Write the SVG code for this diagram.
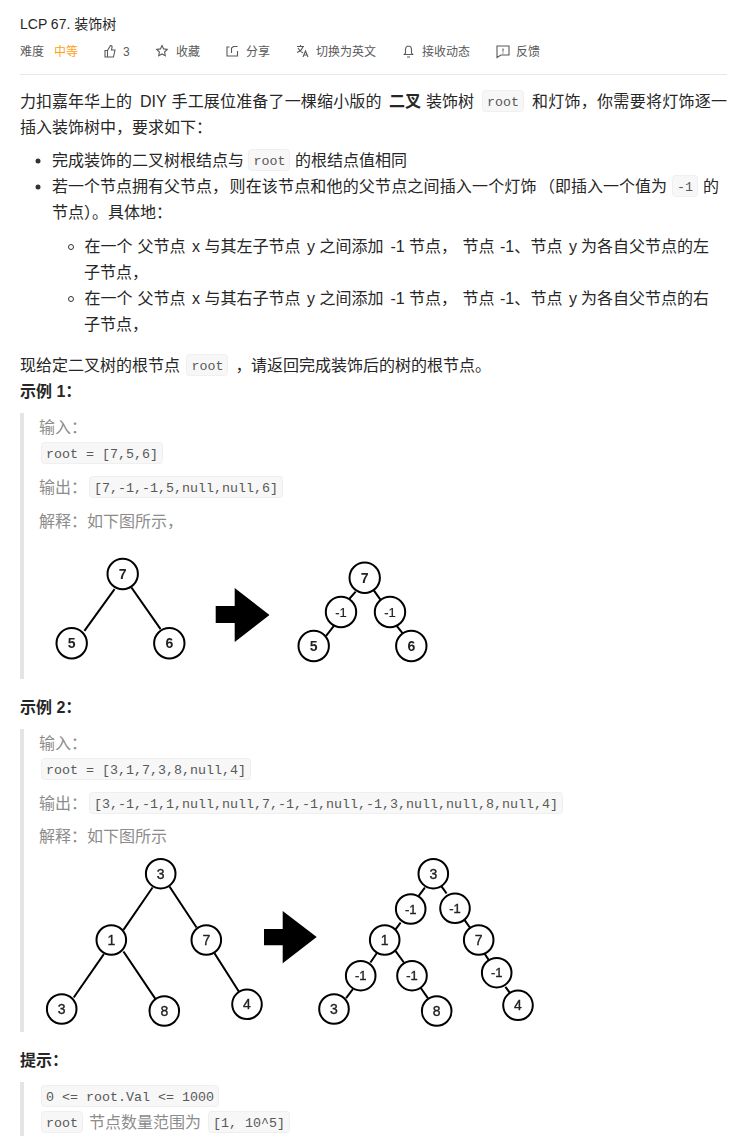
<svg xmlns="http://www.w3.org/2000/svg" width="746" height="1146" viewBox="0 0 746 1146">
<style>
text{font-family:"Liberation Sans","Noto Sans CJK SC",sans-serif;fill:#262626;font-size:16px}
.t{font-size:12px;fill:#595959}
.title{font-size:14px;fill:#262626}
.b{font-weight:700}
.g{fill:#8c8c8c}
.c{font-family:"Liberation Mono",monospace;font-size:13.33px;fill:#595959}
.chip{fill:#f7f7f7;stroke:#efefef;stroke-width:1}
.bar{fill:#e5e5e5}
.n{filter:url(#soft)}
.n circle{fill:#fff;stroke:#000;stroke-width:2}
.n text{font-size:14px;font-weight:700;fill:#222;text-anchor:middle}
.m text{font-weight:400;font-size:13px;stroke:#222;stroke-width:.2}
.r circle{stroke-width:2}
.r text{font-weight:400;stroke:#222;stroke-width:.35}
.e{filter:url(#soft)}
.e line{stroke:#000;stroke-width:2;stroke-linecap:square}
.ic{fill:none;stroke:#595959;stroke-width:1.1}
</style>
<defs><filter id="soft" x="-10%" y="-10%" width="120%" height="120%"><feGaussianBlur stdDeviation="0.35"/></filter></defs>
<rect width="746" height="1146" fill="#fff"/>
<g id="header">
<text class="title" x="20" y="29">LCP 67. 装饰树</text>
<text class="t" x="20" y="56">难度</text>
<text class="t" x="54" y="56" style="fill:#ffa116">中等</text>
<path class="ic" d="M105 50.500h2.500v6.500h-2.500zM107.500 50.500l3-5c1.500 0 1.800 1 1.500 2l-.5 2.500h3.500l-1.500 7h-6"/>
<text class="t" x="123" y="56">3</text>
<path class="ic" d="M162 45.500l1.600 3.400 3.700.5-2.700 2.600.7 3.700-3.300-1.800-3.300 1.800.7-3.700-2.700-2.600 3.700-.5z"/>
<text class="t" x="176" y="56">收藏</text>
<path class="ic" d="M229.500 47h-2.500v9h10.500v-5M231.500 53v-5l2-1.500h4"/>
<text class="t" x="246" y="56">分享</text>
<path class="ic" d="M297 46.500h7M300.500 45v1.500M303 46.500c-1 3-3 5-6 6M298 48c1 2 3 4 5 5M303 57l2.500-6 2.500 6M304 55h3"/>
<text class="t" x="316" y="56">切换为英文</text>
<path class="ic" d="M408.500 46c-2.500 0-3 2-3 4v3l-1.200 1.500h8.400l-1.200-1.500v-3c0-2-.5-4-3-4zM407 57h3"/>
<text class="t" x="422" y="56">接收动态</text>
<path class="ic" d="M497 46h12v9h-8l-4 2.500zM503 48.500v3M503 52.500v1"/>
<text class="t" x="516" y="56">反馈</text>
<rect x="20" y="74" width="707" height="1" fill="#e8e8e8"/>
</g>
<g id="description">
<rect class="chip" x="482.500" y="90.500" width="41" height="21" rx="3"/>
<rect class="chip" x="248.500" y="149.500" width="41" height="21" rx="3"/>
<rect class="chip" x="672.500" y="175.500" width="25" height="21" rx="3"/>
<rect class="chip" x="186.500" y="354.500" width="41" height="21" rx="3"/>
<text x="20" y="107">力扣嘉年华上的</text>
<text x="140" y="107">DIY</text>
<text x="171.500" y="107" textLength="210">手工展位准备了一棵缩小版的</text>
<text class="b" x="389" y="107">二叉</text>
<text x="426" y="107">装饰树</text>
<text class="c" x="487" y="106">root</text>
<text x="532" y="107" textLength="195">和灯饰，你需要将灯饰逐一</text>
<text x="20" y="133">插入装饰树中，要求如下：</text>
<circle cx="38" cy="161" r="2.500" fill="#333"/>
<text x="52" y="166">完成装饰的二叉树根结点与</text>
<text class="c" x="253.500" y="165">root</text>
<text x="295" y="166">的根结点值相同</text>
<circle cx="38" cy="187" r="2.500" fill="#333"/>
<text x="52" y="192">若一个节点拥有父节点，</text>
<text x="229.500" y="192" textLength="307">则在该节点和他的父节点之间插入一个灯饰</text>
<text x="539" y="192">（即插入一个值为</text>
<text class="c" x="677" y="191">-1</text>
<text x="703" y="192">的</text>
<text x="52" y="218">节点）。具体地：</text>
<circle cx="71" cy="247" r="2.500" fill="none" stroke="#333"/>
<g id="sub1">
<text x="84.500" y="252">在一个</text>
<text x="137.500" y="252">父节点</text>
<text x="192" y="252">x</text>
<text x="204.500" y="252">与其左子节点</text>
<text x="307" y="252">y</text>
<text x="319.500" y="252">之间添加</text>
<text x="390.500" y="252">-1</text>
<text x="409" y="252">节点，</text>
<text x="462.500" y="252">节点</text>
<text x="500" y="252">-1、</text>
<text x="530.500" y="252">节点</text>
<text x="569" y="252">y</text>
<text x="581" y="252">为各自父节点的左</text>
</g>
<text x="84" y="278">子节点，</text>
<circle cx="71" cy="299" r="2.500" fill="none" stroke="#333"/>
<g id="sub2">
<text x="84.500" y="304">在一个</text>
<text x="137.500" y="304">父节点</text>
<text x="192" y="304">x</text>
<text x="204.500" y="304">与其右子节点</text>
<text x="307" y="304">y</text>
<text x="319.500" y="304">之间添加</text>
<text x="390.500" y="304">-1</text>
<text x="409" y="304">节点，</text>
<text x="462.500" y="304">节点</text>
<text x="500" y="304">-1、</text>
<text x="530.500" y="304">节点</text>
<text x="569" y="304">y</text>
<text x="581" y="304">为各自父节点的右</text>
</g>
<text x="84" y="330">子节点，</text>
<text x="20" y="371">现给定二叉树的根节点</text>
<text class="c" x="191.500" y="370">root</text>
<text x="235.500" y="371">，</text>
<text x="251" y="371">请返回完成装饰后的树的根节点。</text>
<text class="b" x="20" y="397">示例 1：</text>
</g>
<g id="example1-text">
<rect class="bar" x="20" y="413" width="4" height="266"/>
<rect class="chip" x="41.500" y="442.500" width="121" height="21" rx="3"/>
<rect class="chip" x="89.500" y="476.500" width="193" height="21" rx="3"/>
<text class="g" x="39" y="433">输入：</text>
<text class="c" x="46" y="458">root = [7,5,6]</text>
<text class="g" x="39" y="493">输出：</text>
<text class="c" x="94" y="492">[7,-1,-1,5,null,null,6]</text>
<text class="g" x="39" y="527">解释：如下图所示，</text>
</g>
<g id="connectors" class="e">
<line x1="114" y1="590" x2="85" y2="630"/>
<line x1="132" y1="588.300" x2="160" y2="628.300"/>
<line x1="355" y1="592.300" x2="348.300" y2="600"/>
<line x1="374" y1="590.700" x2="380" y2="599"/>
<line x1="333.300" y1="626.700" x2="326.700" y2="635"/>
<line x1="397.300" y1="626.700" x2="403.300" y2="634"/>
<line x1="152" y1="888.300" x2="124" y2="929"/>
<line x1="170" y1="887.300" x2="196" y2="926.700"/>
<line x1="103.300" y1="955" x2="74.300" y2="996.700"/>
<line x1="124" y1="952.300" x2="155" y2="998.300"/>
<line x1="215" y1="954" x2="238.300" y2="990.700"/>
<line x1="424.300" y1="888.300" x2="419.300" y2="895"/>
<line x1="441.700" y1="886.700" x2="446" y2="892.700"/>
<line x1="400" y1="923.300" x2="395" y2="930"/>
<line x1="465" y1="920.700" x2="470" y2="927.700"/>
<line x1="376.700" y1="953.300" x2="371" y2="961.700"/>
<line x1="396" y1="951.700" x2="403.300" y2="961.700"/>
<line x1="485" y1="954.300" x2="488.300" y2="959.300"/>
<line x1="352.300" y1="990" x2="346.700" y2="997.300"/>
<line x1="421" y1="988.300" x2="427.300" y2="997.300"/>
<line x1="506" y1="987.700" x2="510.700" y2="994"/>
</g>
<g id="arrow1"><polygon points="215.700,606 234.700,606 234.700,588 269.500,615 234.700,642 234.700,623 215.700,623" fill="#000"/></g>
<g id="arrow2"><polygon points="264,929 282.700,929 282.700,911 316.700,937 282.700,963.300 282.700,945.300 264,945.300" fill="#000"/></g>
<g id="a-7" class="n"><circle cx="122.700" cy="574" r="15.200"/><text x="122.700" y="579">7</text></g>
<g id="a-5" class="n"><circle cx="71.700" cy="643.300" r="15.200"/><text x="71.700" y="648.300">5</text></g>
<g id="a-6" class="n"><circle cx="169.300" cy="643.300" r="15.200"/><text x="169.300" y="648.300">6</text></g>
<g id="b-7" class="n"><circle cx="364.700" cy="577.700" r="15.200"/><text x="364.700" y="582.700">7</text></g>
<g id="b-m1" class="n m"><circle cx="341" cy="612" r="15.200"/><text x="341" y="616.500">-1</text></g>
<g id="b-m2" class="n m"><circle cx="390" cy="612" r="15.200"/><text x="390" y="616.500">-1</text></g>
<g id="b-5" class="n"><circle cx="313.700" cy="646" r="15.200"/><text x="313.700" y="651">5</text></g>
<g id="b-6" class="n"><circle cx="411.300" cy="646" r="15.200"/><text x="411.300" y="651">6</text></g>
<g id="example2-text">
<text class="b" x="20" y="713">示例 2：</text>
<rect class="bar" x="20" y="729" width="4" height="303"/>
<rect class="chip" x="41.500" y="758.500" width="209" height="21" rx="3"/>
<rect class="chip" x="89.500" y="792.500" width="473" height="21" rx="3"/>
<text class="g" x="39" y="749">输入：</text>
<text class="c" x="46" y="774">root = [3,1,7,3,8,null,4]</text>
<text class="g" x="39" y="809">输出：</text>
<text class="c" x="94" y="808">[3,-1,-1,1,null,null,7,-1,-1,null,-1,3,null,null,8,null,4]</text>
<text class="g" x="39" y="842">解释：如下图所示</text>
</g>
<g id="c-3" class="n r"><circle cx="160.700" cy="873.700" r="14.800"/><text x="160.700" y="878.700">3</text></g>
<g id="c-1" class="n r"><circle cx="111.300" cy="940" r="14.800"/><text x="111.300" y="945">1</text></g>
<g id="c-7" class="n r"><circle cx="206.300" cy="940" r="14.800"/><text x="206.300" y="945">7</text></g>
<g id="c-3b" class="n r"><circle cx="61.700" cy="1009" r="14.800"/><text x="61.700" y="1014">3</text></g>
<g id="c-8" class="n r"><circle cx="164.300" cy="1011" r="14.800"/><text x="164.300" y="1016">8</text></g>
<g id="c-4" class="n r"><circle cx="247" cy="1004.300" r="14.800"/><text x="247" y="1009.300">4</text></g>
<g id="d-3" class="n r"><circle cx="433.300" cy="873.700" r="14.800"/><text x="433.300" y="878.700">3</text></g>
<g id="d-m1" class="n m r"><circle cx="410.700" cy="909" r="14.800"/><text x="410.700" y="913.500">-1</text></g>
<g id="d-m2" class="n m r"><circle cx="455" cy="908.300" r="14.800"/><text x="455" y="912.800">-1</text></g>
<g id="d-1" class="n r"><circle cx="384.700" cy="940" r="14.800"/><text x="384.700" y="945">1</text></g>
<g id="d-7" class="n r"><circle cx="478.700" cy="940" r="14.800"/><text x="478.700" y="945">7</text></g>
<g id="d-m3" class="n m r"><circle cx="360.700" cy="975.700" r="14.800"/><text x="360.700" y="980.200">-1</text></g>
<g id="d-m4" class="n m r"><circle cx="412" cy="975.700" r="14.800"/><text x="412" y="980.200">-1</text></g>
<g id="d-m5" class="n m r"><circle cx="496.700" cy="972.700" r="14.800"/><text x="496.700" y="977.200">-1</text></g>
<g id="d-3b" class="n r"><circle cx="334" cy="1009" r="14.800"/><text x="334" y="1014">3</text></g>
<g id="d-8" class="n r"><circle cx="436.700" cy="1011" r="14.800"/><text x="436.700" y="1016">8</text></g>
<g id="d-4" class="n r"><circle cx="518" cy="1005.300" r="14.800"/><text x="518" y="1010.300">4</text></g>
<g id="hints">
<text class="b" x="20" y="1066">提示：</text>
<rect class="bar" x="20" y="1082" width="4" height="54"/>
<rect class="chip" x="41.500" y="1085.500" width="177" height="21" rx="3"/>
<rect class="chip" x="41.500" y="1111.500" width="41" height="21" rx="3"/>
<rect class="chip" x="208.500" y="1111.500" width="81" height="21" rx="3"/>
<text class="c" x="46" y="1101">0 &lt;= root.Val &lt;= 1000</text>
<text class="c" x="46" y="1127">root</text>
<text class="g" x="89" y="1128">节点数量范围为</text>
<text class="c" x="213" y="1127">[1, 10^5]</text>
</g>
</svg>
